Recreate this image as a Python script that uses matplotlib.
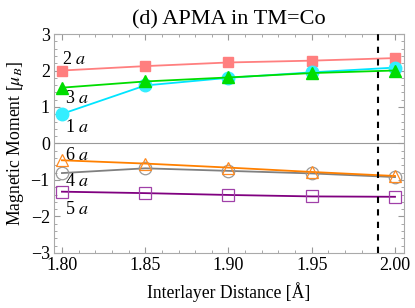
import matplotlib
matplotlib.use("Agg")
import matplotlib.pyplot as plt
from matplotlib.ticker import MultipleLocator

plt.rcParams['font.family'] = ['Liberation Serif', 'DejaVu Serif']
plt.rcParams['mathtext.fontset'] = 'stix'

distance = [1.80, 1.85, 1.90, 1.95, 2.00]
m1a = [0.81, 1.59, 1.80, 1.95, 2.08]
m2a = [2.00, 2.12, 2.22, 2.27, 2.34]
m3a = [1.53, 1.70, 1.81, 1.93, 2.00]
m4a = [-0.81, -0.68, -0.75, -0.82, -0.92]
m5a = [-1.32, -1.36, -1.41, -1.45, -1.46]
m6a = [-0.46, -0.55, -0.66, -0.78, -0.89]
equilibrium = 1.99
title = "(d) APMA in TM=Co"

fig = plt.figure(figsize=(4.15, 3.08), dpi=100)
ax = fig.add_axes([0.130, 0.1786, 0.8435, 0.711])

ax.axhline(0, color='#999999', lw=0.8, zorder=1)

lw = 1.3
ax.plot(distance, m2a, color='#FF7F7F', lw=lw, marker='s', ms=7, mfc='#FF7F7F', mec='#FF7F7F', zorder=3)
ax.plot(distance, m1a, color='#00E5FF', lw=lw, marker='o', ms=9, mfc='#33EEFF', mec='#33EEFF', zorder=3)
ax.plot(distance, m3a, color='#00DD00', lw=lw, marker='^', ms=8, mfc='#00DD00', mec='#00DD00', zorder=4)
ax.plot(distance, m4a, color='#808080', lw=lw, marker='o', ms=9, mfc='none', mec='#999999', mew=0.9, zorder=3)
ax.plot(distance, m6a, color='#FF8000', lw=lw, marker='^', ms=8, mfc='none', mec='#FF8A20', mew=0.9, zorder=4)
ax.plot(distance, m5a, color='#800080', lw=lw, marker='s', ms=8, mfc='none', mec='#A040A8', mew=0.9, zorder=3)

ax.axvline(equilibrium, color='black', lw=1.5, ls=(0, (3, 3)), zorder=5)

fs = 13
lbl = dict(fontsize=fs, ha='left', va='center')
ax.text(1.800, 2.30, "2 $a$", **lbl)
ax.text(1.802, 1.22, "3 $a$", **lbl)
ax.text(1.802, 0.45, "1 $a$", **lbl)
ax.text(1.802, -0.32, "6 $a$", **lbl)
ax.text(1.802, -1.05, "4 $a$", **lbl)
ax.text(1.802, -1.80, "5 $a$", **lbl)

ax.set_xlim(1.7952, 2.0054)
ax.set_ylim(-3, 3)
ax.xaxis.set_major_locator(MultipleLocator(0.05))
ax.xaxis.set_minor_locator(MultipleLocator(0.01))
ax.yaxis.set_major_locator(MultipleLocator(1))
ax.yaxis.set_minor_locator(MultipleLocator(0.2))
ax.xaxis.set_major_formatter(matplotlib.ticker.FormatStrFormatter('%.2f'))

ax.tick_params(which='both', direction='in', top=True, right=True, color='#999999', labelsize=fs, pad=3)
ax.tick_params(which='major', length=4.5, width=0.8)
ax.tick_params(which='minor', length=2.5, width=0.6)
for s in ax.spines.values():
    s.set_color('#aaaaaa')
    s.set_linewidth(0.8)

ax.set_xlabel("Interlayer Distance [Å]", fontsize=12.7, labelpad=6)
ax.set_ylabel(r"Magnetic Moment [$\mu_B$]", fontsize=12.7, labelpad=3)
ax.set_title(title, fontsize=16, pad=7)

fig.savefig("out.png", dpi=100)
